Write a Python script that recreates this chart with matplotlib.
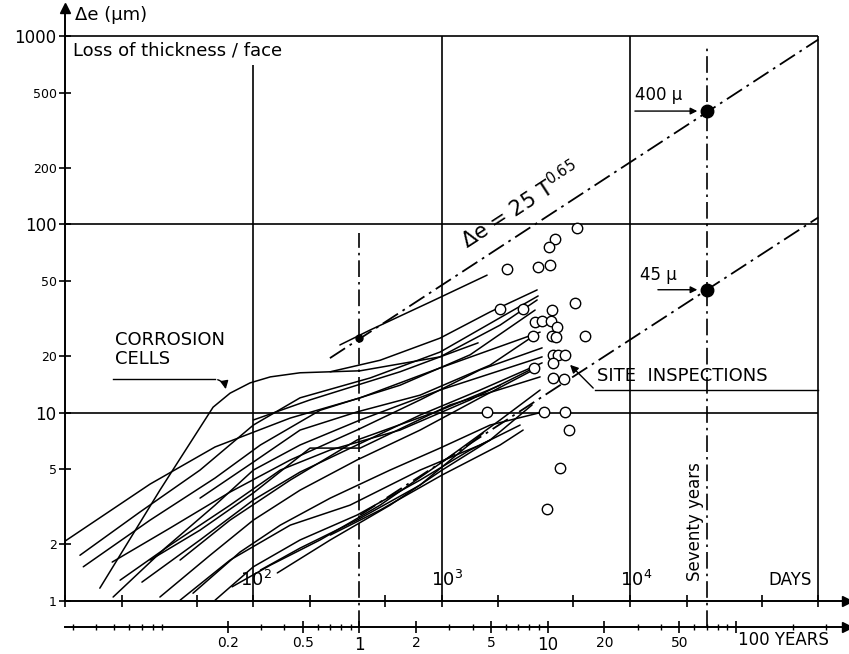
import numpy as np
import matplotlib
matplotlib.use("Agg")
import matplotlib.pyplot as plt
from matplotlib.ticker import FixedLocator, LogLocator, NullFormatter

plt.rcParams['font.family'] = ['DejaVu Sans']

# ---- values: x in days, y in micrometres ----
curve_01 = [(15.3, 1.17), (31.9, 3.88), (61.1, 10.7), (75.2, 12.7), (96, 14.4), (123, 15.5), (177, 16.3),
            (369, 16.7), (980, 19.8), (1561, 23.5)]
curve_02 = [(10, 2.08), (28.3, 4.18), (62.6, 6.58), (157, 9.37), (369, 12.0), (980, 17.3), (3331, 26.8)]
curve_03 = [(12, 1.75), (25, 2.97), (52.1, 4.96), (100, 8.6), (177, 12.0), (417, 15.3), (980, 21.0), (3251, 41.7)]
curve_04 = [(12.5, 1.52), (28.3, 2.69), (62.6, 4.50), (109, 6.74), (226, 10.3), (601, 14.0), (1415, 20.3), (3133, 35.1)]
curve_05 = [(17.8, 1.61), (36.1, 2.44), (75.2, 3.79), (157, 5.61), (355, 8.09), (768, 11.7), (1600, 16.9), (3414, 22.1)]
curve_06 = [(18, 1.05), (34, 1.91), (62.6, 3.23), (100, 4.96), (177, 6.74), (369, 9.15), (980, 13.2), (3414, 19.8)]
curve_07 = [(25.6, 1.26), (52.1, 2.11), (100, 3.44), (177, 4.84), (355, 6.74), (768, 9.72), (1600, 13.2), (3414, 18.4)]
curve_08 = [(28.3, 1.65), (52.1, 2.38), (100, 3.75), (200, 6.49), (369, 6.49), (1108, 11.0), (3331, 15.5)]
curve_09 = [(31.9, 1.05), (58.9, 1.75), (100, 2.69), (177, 3.88), (355, 5.61), (768, 8.09), (1600, 12.0), (3212, 17.3)]
curve_10 = [(47.8, 1.10), (85, 1.82), (139, 2.53), (256, 3.52), (532, 4.96), (980, 6.49), (1807, 8.6), (3456, 10.1)]
curve_11 = [(62.6, 1.01), (100, 1.52), (177, 2.11), (355, 2.86), (768, 4.39), (1415, 6.34), (1807, 7.16)]
curve_12 = [(77.1, 1.19), (123, 1.55), (226, 2.11), (471, 3.23), (1005, 5.47), (2042, 9.15), (3331, 13.2)]
curve_13 = [(109, 1.46), (177, 1.91), (355, 2.69), (768, 4.13), (1660, 7.80)]
curve_14 = [(134, 1.41), (256, 2.11), (532, 3.23), (1005, 4.96), (1807, 7.16), (3020, 11.0)]
curve_15 = [(256, 2.24), (471, 3.04), (1005, 4.67), (2042, 6.74), (2706, 8.09)]
curve_16 = [(288, 22.9), (417, 27.5), (868, 38.7), (1742, 53.8)]
curve_17 = [(256, 16.5), (471, 19.0), (980, 24.9), (1807, 34.3), (3212, 44.9)]
curve_18 = [(100, 9.15), (200, 11.7), (355, 14.0), (601, 16.5), (980, 19.8), (2042, 29.2), (3212, 39.7)]
curve_19 = [(40.8, 1.65), (75.2, 2.69), (157, 4.39), (355, 7.16), (980, 10.3), (2042, 14.0)]
curve_20 = [(19.6, 1.29), (36.1, 1.98), (75.2, 3.23), (139, 4.96), (256, 6.34), (601, 8.09), (1415, 11.7), (2949, 16.9)]
curve_21 = [(40.8, 1.01), (75.2, 1.65), (157, 2.53), (326, 3.23), (768, 4.96), (1600, 6.74), (2608, 8.6)]
curve_22 = [(52.1, 3.52), (100, 5.47), (177, 8.09), (355, 10.1), (768, 12.4), (1807, 17.9), (3133, 25.9)]
cell_curves = [curve_01, curve_02, curve_03, curve_04, curve_05, curve_06, curve_07, curve_08, curve_09,
               curve_10, curve_11, curve_12, curve_13, curve_14, curve_15, curve_16, curve_17, curve_18,
               curve_19, curve_20, curve_21, curve_22]

site_days = [5236, 4000, 3718, 2225, 3250, 3765, 5110, 2042, 2706, 3857, 3133, 3414, 3811, 4102, 3057, 3857,
             4053, 5781, 3908, 4150, 4520, 3908, 3097, 3908, 4467, 1742, 3498, 4520, 4750, 4253, 3631]
site_um = [95.7, 83.6, 75.9, 58.0, 59.4, 60.9, 38.3, 35.5, 35.5, 35.1, 30.3, 30.7, 30.7, 28.5, 25.5, 25.5,
           25.2, 25.5, 20.3, 20.3, 20.3, 18.4, 17.3, 15.3, 15.1, 10.1, 10.1, 10.1, 8.09, 5.09, 3.08]

fit_hi_days = [255, 1.0e5]     # de = 25 T^0.65
fit_hi_um = [19.5, 960]
fit_lo_days = [369, 1.0e5]
fit_lo_um = [2.86, 109]
mark_years = [70, 70]
mark_um = [400, 45]
one_year_um = 25

y_ticks = [1, 2, 5, 10, 20, 50, 100, 200, 500, 1000]
day_ticks = [10, 20, 50, 100, 200, 500, 1000, 2000, 5000, 1e4, 2e4, 5e4, 1e5]
year_ticks = [0.2, 0.5, 1, 2, 5, 10, 20, 50, 100]
year_labels = ['0.2', '0.5', '1', '2', '5', '10', '20', '50', '']

YEAR = 365.25

fig = plt.figure(figsize=(8.49, 6.54), dpi=100)
ax = fig.add_axes([0.0766, 0.0810, 0.9211, 0.9067])
ax.set_xscale('log')
ax.set_yscale('log')
ax.set_xlim(10, 1.42e5)
ax.set_ylim(1, 1410)
for s in ('top', 'right'):
    ax.spines[s].set_visible(False)
for s in ('left', 'bottom'):
    ax.spines[s].set_linewidth(1.4)

ax.set_yticks(y_ticks)
ax.set_yticklabels([str(v) for v in y_ticks])
ax.yaxis.set_minor_locator(FixedLocator([]))
for lbl, v in zip(ax.get_yticklabels(), y_ticks):
    lbl.set_fontsize(12 if v in (10, 100, 1000) else 9)
ax.tick_params(axis='y', direction='inout', length=8, width=1.2, pad=2)
ax.set_xticks(day_ticks)
ax.xaxis.set_major_formatter(NullFormatter())
ax.xaxis.set_minor_locator(FixedLocator([]))
ax.tick_params(axis='x', direction='inout', length=8, width=1.2)

# arrows on axes
ax.plot(0, 1, '^k', ms=7, transform=ax.transAxes, clip_on=False)
ax.plot(1, 0, '>k', ms=7, transform=ax.transAxes, clip_on=False)

# years axis below
yr_pos = -26 / 593
sec = ax.secondary_xaxis(yr_pos, functions=(lambda d: d / YEAR, lambda y: y * YEAR))
sec.spines['bottom'].set_linewidth(1.4)
sec.set_xticks(year_ticks)
sec.set_xticklabels(year_labels)
sec.xaxis.set_minor_locator(LogLocator(base=10, subs=np.arange(2, 10)))
sec.xaxis.set_minor_formatter(NullFormatter())
sec.tick_params(axis='x', which='major', direction='inout', length=9, width=1.2, labelsize=10, pad=2)
sec.tick_params(axis='x', which='minor', direction='inout', length=5, width=1.0)
for lbl, v in zip(sec.get_xticklabels(), year_ticks):
    if v in (1, 10):
        lbl.set_fontsize(12)
ax.plot(1, yr_pos, '>k', ms=7, transform=ax.transAxes, clip_on=False)
ax.text(100 * YEAR * 1.02, -0.066, '100 YEARS', transform=ax.get_xaxis_transform(),
        ha='left', va='center', fontsize=12)

# frame of grid lines
ax.hlines([10, 100, 1000], 10, 1e5, color='k', lw=1.2)
ax.vlines([1e3, 1e4, 1e5], 1, 1000, color='k', lw=1.2)
ax.vlines(100, 1, 700, color='k', lw=1.2)

dashdot = (0, (10, 3, 1.5, 3))
ax.plot([YEAR, YEAR], [0.727, 90], color='k', lw=1.2, ls=dashdot, clip_on=False)
ax.plot([70 * YEAR, 70 * YEAR], [0.727, 900], color='k', lw=1.2, ls=dashdot, clip_on=False)
ax.plot(fit_hi_days, fit_hi_um, color='k', lw=1.3, ls=dashdot)
ax.plot(fit_lo_days, fit_lo_um, color='k', lw=1.3, ls=dashdot)

for c in cell_curves:
    d, u = zip(*c)
    ax.plot(d, u, color='k', lw=1.1, solid_capstyle='round', solid_joinstyle='round')

ax.plot(site_days, site_um, 'o', mfc='white', mec='k', ms=7.5, mew=1.0, ls='none')

ax.plot(np.array(mark_years) * YEAR, mark_um, 'o', color='k', ms=9)
ax.plot([YEAR], [one_year_um], 'o', color='k', ms=5)

# texts
ax.text(11.3, 1294, 'Δe (μm)', fontsize=13, va='center', ha='left')
ax.text(11.0, 844, 'Loss of thickness / face', fontsize=13, va='center', ha='left')
for x, s in [(103, '$\\mathregular{10^2}$'), (1069, '$\\mathregular{10^3}$'), (10770, '$\\mathregular{10^4}$')]:
    ax.text(x, 1.29, s, fontsize=13, ha='center', va='center')
ax.text(92700, 1.29, 'DAYS', fontsize=12, ha='right', va='center')
ax.text(22180, 2.63, 'Seventy years', rotation=90, fontsize=12, ha='center', va='center')
ax.text(2608, 127, 'Δe = 25 T$\\mathregular{^{0.65}}$', rotation=33, rotation_mode='anchor',
        fontsize=15, ha='center', va='center')

ax.text(10640, 487, '400 μ', fontsize=12, ha='left', va='center')
ax.annotate('', xy=(23550, 400), xytext=(10260, 400),
            arrowprops=dict(arrowstyle='-|>', color='k', lw=1.0, mutation_scale=10))
ax.text(11320, 53.9, '45 μ', fontsize=12, ha='left', va='center')
ax.annotate('', xy=(23550, 45), xytext=(13590, 45),
            arrowprops=dict(arrowstyle='-|>', color='k', lw=1.0, mutation_scale=10))

ax.text(18.4, 27.2, 'CORROSION\nCELLS', fontsize=13, ha='left', va='top', linespacing=1.1)
ax.plot([18.0, 62.6], [15.1, 15.1], color='k', lw=1.0)
ax.annotate('', xy=(71.6, 12.9), xytext=(62.6, 15.1),
            arrowprops=dict(arrowstyle='-|>', color='k', lw=1.0, mutation_scale=12,
                            connectionstyle='arc3,rad=-0.4'))

ax.text(6680, 15.7, 'SITE  INSPECTIONS', fontsize=13, ha='left', va='center')
ax.plot([6530, 1e5], [13.2, 13.2], color='k', lw=1.0)
ax.annotate('', xy=(4690, 18.4), xytext=(6530, 13.2),
            arrowprops=dict(arrowstyle='-|>', color='k', lw=1.0, mutation_scale=12))

fig.savefig('out.png', dpi=100)
